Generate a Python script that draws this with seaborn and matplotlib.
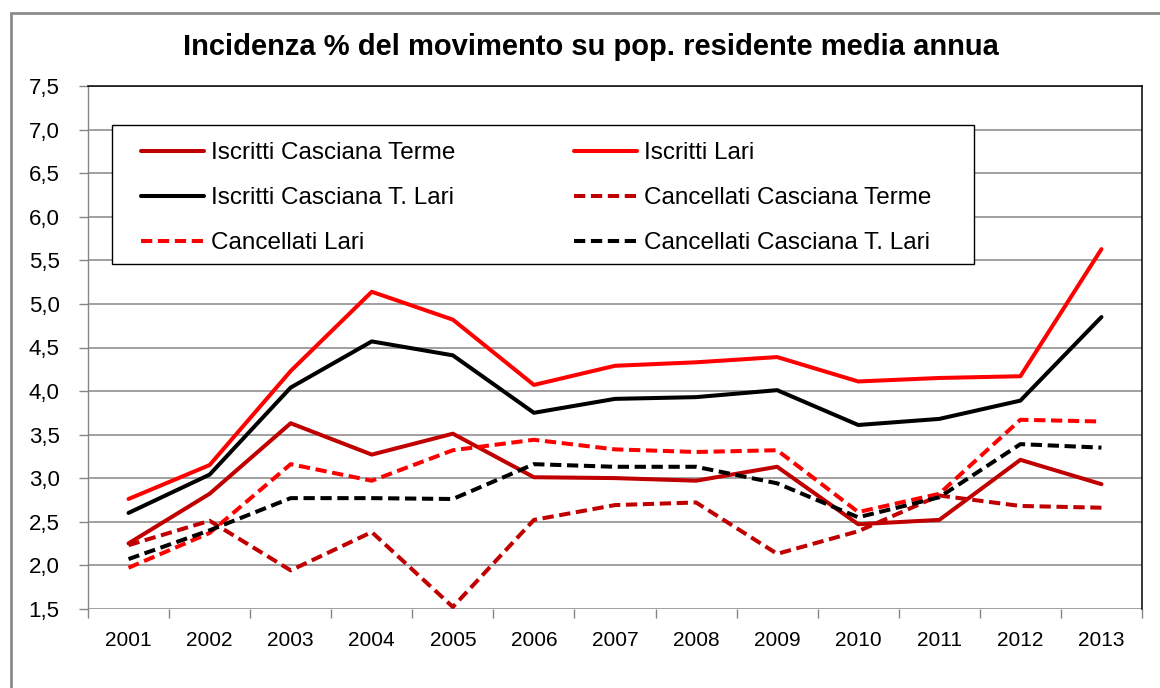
import numpy as np
import pandas as pd
import seaborn as sns
import matplotlib.pyplot as plt
from matplotlib.patches import Rectangle
from matplotlib.ticker import FixedLocator, FuncFormatter

anni = ["2001", "2002", "2003", "2004", "2005", "2006", "2007",
        "2008", "2009", "2010", "2011", "2012", "2013"]

iscritti_ct = [2.25, 2.82, 3.63, 3.27, 3.51, 3.01, 3.00, 2.97, 3.13, 2.47, 2.52, 3.21, 2.93]
iscritti_lari = [2.76, 3.15, 4.23, 5.14, 4.82, 4.07, 4.29, 4.33, 4.39, 4.11, 4.15, 4.17, 5.63]
iscritti_ctl = [2.60, 3.04, 4.04, 4.57, 4.41, 3.75, 3.91, 3.93, 4.01, 3.61, 3.68, 3.89, 4.85]
cancellati_ct = [2.23, 2.51, 1.94, 2.38, 1.52, 2.52, 2.69, 2.72, 2.13, 2.39, 2.80, 2.68, 2.66]
cancellati_lari = [1.97, 2.37, 3.16, 2.97, 3.32, 3.44, 3.33, 3.30, 3.32, 2.61, 2.82, 3.67, 3.65]
cancellati_ctl = [2.07, 2.40, 2.77, 2.77, 2.76, 3.16, 3.13, 3.13, 2.94, 2.55, 2.78, 3.39, 3.35]

DARK_RED = "#C00000"
RED = "#FF0000"
DASH = (0, (2.8, 1.4))

serie = [
    ("Iscritti Casciana Terme", iscritti_ct, DARK_RED, "-"),
    ("Iscritti Lari", iscritti_lari, RED, "-"),
    ("Iscritti Casciana T. Lari", iscritti_ctl, "black", "-"),
    ("Cancellati Casciana Terme", cancellati_ct, DARK_RED, DASH),
    ("Cancellati Lari", cancellati_lari, RED, DASH),
    ("Cancellati Casciana T. Lari", cancellati_ctl, "black", DASH),
]

sns.set_style("white")
plt.rcParams['font.family'] = ['Liberation Sans', 'DejaVu Sans']
plt.rcParams['text.color'] = 'black'

fig = plt.figure(figsize=(11.6, 6.88), dpi=100)
ax = fig.add_axes([88 / 1160, 1 - 608.7 / 688, (1142 - 88) / 1160, (608.7 - 86.3) / 688])

for nome, valori, colore, stile in serie:
    df = pd.DataFrame({"anno": anni, "valore": valori})
    sns.lineplot(data=df, x="anno", y="valore", ax=ax, color=colore,
                 linestyle=stile, linewidth=2.9, label=nome, sort=False)

ax.set_xlim(-0.5, 12.5)
ax.set_ylim(1.5, 7.5)
ax.set_yticks(np.arange(1.5, 7.51, 0.5))
ax.yaxis.set_major_formatter(FuncFormatter(lambda v, p: f"{v:.1f}".replace(".", ",")))
ax.set_xlabel("")
ax.set_ylabel("")

# gridlines and axes the way the spreadsheet draws them
ax.grid(axis="y", color="#868686", linewidth=1.1)
ax.set_axisbelow(True)
ax.spines["bottom"].set_visible(False)
ax.spines["left"].set_color("#868686")
ax.spines["left"].set_linewidth(1.0)
for lato in ["top", "right"]:
    ax.spines[lato].set_color("black")
    ax.spines[lato].set_linewidth(1.1)

ax.xaxis.set_minor_locator(FixedLocator(np.arange(-0.5, 12.6, 1)))
ax.tick_params(axis="x", which="major", length=0, pad=16, labelsize=15, labelcolor="black")
ax.tick_params(axis="x", which="minor", bottom=True, length=6.5, width=1, color="#868686", direction="out")
ax.tick_params(axis="y", left=True, length=6.5, width=1, color="#868686", pad=14, labelsize=16,
               labelcolor="black")

fig.text(0.509, 1 - 47 / 688, "Incidenza % del movimento su pop. residente media annua",
         ha="center", va="center", fontsize=21, fontweight="bold")

# legend box
fig.patches.append(Rectangle((112 / 1160, 1 - 264 / 688), (974 - 112) / 1160, (264 - 125) / 688,
                             transform=fig.transFigure, facecolor="white", edgecolor="black",
                             linewidth=1.0, zorder=1))
# outer chart frame
fig.patches.append(Rectangle((11 / 1160, -0.1), 1.2, 1.1 - 12.7 / 688,
                             transform=fig.transFigure, fill=False, edgecolor="#8c8c8c",
                             linewidth=2.0, zorder=1))

handles, labels = ax.get_legend_handles_labels()
ax.get_legend().remove()
ordine = [0, 2, 4, 1, 3, 5]
fig.legend([handles[i] for i in ordine], [labels[i] for i in ordine],
           loc="upper left", bbox_to_anchor=(141 / 1160, 1 - 142 / 688),
           ncol=2, frameon=False, fontsize=17.5, handlelength=2.6,
           handletextpad=0.3, columnspacing=4.85, labelspacing=0.95, borderpad=0,
           borderaxespad=0)

fig.savefig("out.png", dpi=100)
